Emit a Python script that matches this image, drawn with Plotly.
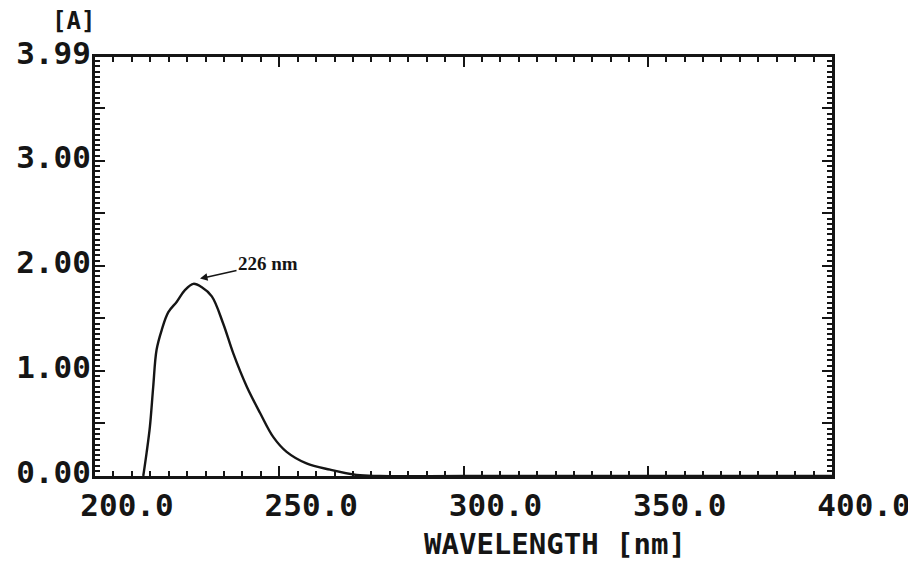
import plotly.graph_objects as go

# Data
wavelength_nm = [213.1, 214.0, 214.9, 215.8, 216.7, 218.1, 219.9, 222.2, 224.4, 226.7,
                 228.9, 231.7, 234.8, 237.5, 241.2, 244.8, 248.4, 252.0, 257.4, 263.8,
                 271.0, 277.3, 300.0, 350.0, 400.0]
absorbance = [0.00, 0.22, 0.47, 0.85, 1.20, 1.39, 1.56, 1.66, 1.77, 1.83,
              1.80, 1.71, 1.45, 1.17, 0.85, 0.60, 0.37, 0.23, 0.12, 0.06,
              0.01, 0.00, 0.00, 0.00, 0.00]

x_tick_values = [200, 250, 300, 350, 400]
x_tick_labels = ["200.0", "250.0", "300.0", "350.0", "400.0"]
y_tick_values = [0, 0.5, 1, 1.5, 2, 2.5, 3, 3.5, 3.99]
y_tick_labels = ["0.00", "", "1.00", "", "2.00", "", "3.00", "", "3.99"]

peak_nm = 228.5
peak_abs = 1.88
peak_label = "226 nm"

MONO = "DejaVu Sans Mono"
INK = "#151515"

# page body has a default 8px margin; work in window pixels and subtract it
OFF = 8
WIN_W, WIN_H = 916, 565
W, H = WIN_W - OFF, WIN_H - OFF
plot_left, plot_right, plot_top, plot_bottom = 95, 832, 57, 476  # window pixels

def px_to_paper(px, py):
    return ((px - plot_left) / (plot_right - plot_left),
            (plot_bottom - py) / (plot_bottom - plot_top))

a_x, a_y = px_to_paper(73, 21)
t_x, t_y = px_to_paper(555, 544)

fig = go.Figure()
fig.add_trace(go.Scatter(
    x=wavelength_nm, y=absorbance, mode="lines",
    line=dict(color=INK, width=2.4, shape="spline", smoothing=1.0),
    showlegend=False, hoverinfo="skip",
))

fig.update_layout(
    width=W, height=H,
    margin=dict(l=plot_left - OFF, r=WIN_W - plot_right, t=plot_top - OFF,
                b=WIN_H - plot_bottom, autoexpand=False),
    paper_bgcolor="white", plot_bgcolor="white",
    showlegend=False,
    xaxis=dict(
        range=[200, 400], tickvals=x_tick_values, ticktext=x_tick_labels,
        ticks="inside", ticklen=10, tickwidth=2, tickcolor=INK,
        showline=True, linewidth=3, linecolor=INK, mirror="allticks",
        showgrid=False, zeroline=False, automargin=False,
        tickfont=dict(family=MONO, size=31, color=INK, weight="bold"),
        ticklabelshift=32, ticklabelstandoff=0,
        minor=dict(dtick=5, tick0=200, ticks="inside", ticklen=5, tickwidth=2, tickcolor=INK, showgrid=False),
    ),
    yaxis=dict(
        range=[0, 3.99], tickvals=y_tick_values, ticktext=y_tick_labels,
        ticks="inside", ticklen=10, tickwidth=2, tickcolor=INK,
        showline=True, linewidth=3, linecolor=INK, mirror="allticks",
        showgrid=False, zeroline=False, automargin=False,
        tickfont=dict(family=MONO, size=31, color=INK, weight="bold"),
        ticklabelshift=-4, ticklabelstandoff=-5,
        minor=dict(dtick=0.05, tick0=0, ticks="inside", ticklen=5, tickwidth=1.5, tickcolor=INK, showgrid=False),
    ),
    annotations=[
        dict(x=peak_nm, y=peak_abs, xref="x", yref="y", text=peak_label,
             showarrow=True, arrowhead=2, arrowsize=1, arrowwidth=1.5, arrowcolor=INK,
             ax=68, ay=-15, standoff=0,
             font=dict(family="Liberation Serif", size=19, color=INK, weight="bold")),
        dict(x=a_x, y=a_y, xref="paper", yref="paper", text="[A]", showarrow=False,
             xanchor="center", yanchor="middle",
             font=dict(family=MONO, size=24, color=INK, weight="bold")),
        dict(x=t_x, y=t_y, xref="paper", yref="paper", text="WAVELENGTH [nm]",
             showarrow=False, xanchor="center", yanchor="middle",
             font=dict(family=MONO, size=29, color=INK, weight="bold")),
    ],
)

fig.write_html("out.html")
